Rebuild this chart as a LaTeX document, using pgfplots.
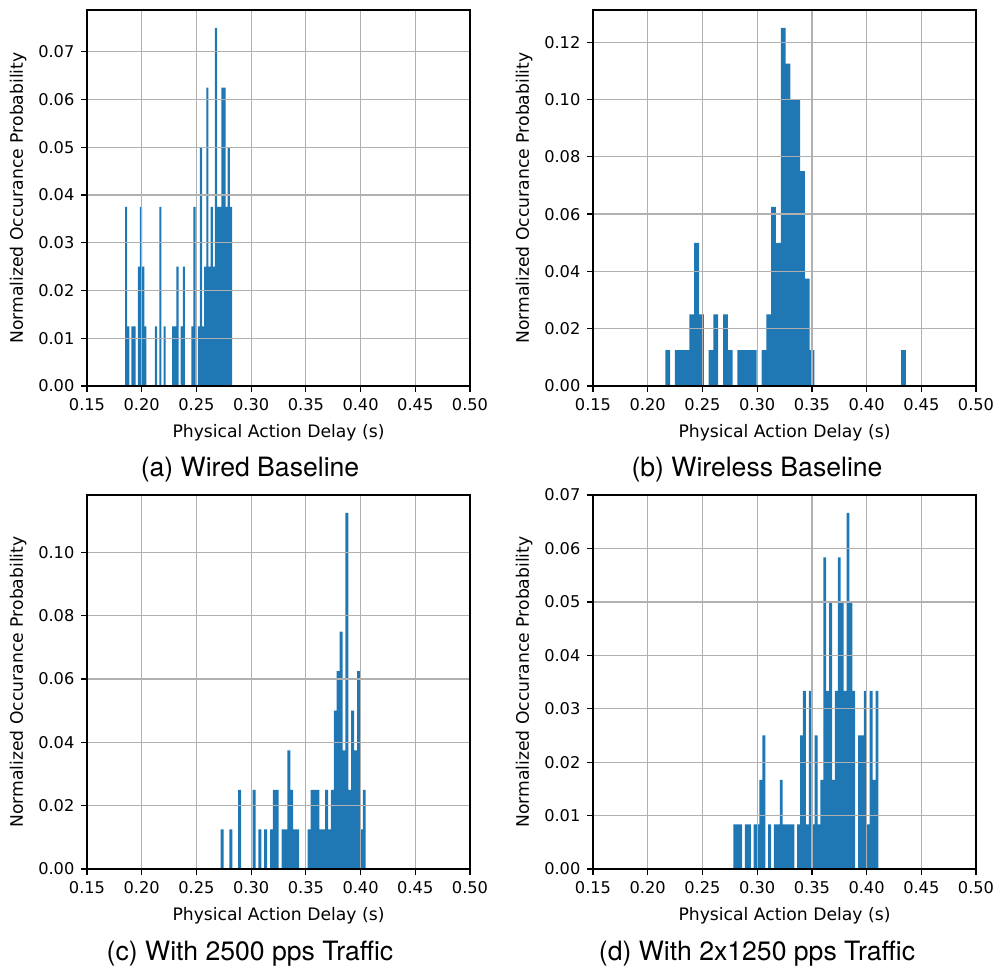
\documentclass[border=0pt]{standalone}
\usepackage{pgfplots}
\pgfplotsset{compat=1.18}
\usepackage{fontspec}
\setmainfont{DejaVu Sans}
\newfontfamily\capfont{TeX Gyre Heros}
\definecolor{mplblue}{HTML}{1F77B4}
\definecolor{mplgrid}{HTML}{B0B0B0}
\pgfplotsset{
  hist/.style={
    scale only axis, width=191.5pt,
    xmin=0.15, xmax=0.50, ymin=0,
    xtick={0.15,0.20,0.25,0.30,0.35,0.40,0.45,0.50},
    xticklabel={\pgfmathprintnumber[fixed,fixed zerofill,precision=2,assume math mode=true]{\tick}},
    yticklabel={\pgfmathprintnumber[fixed,fixed zerofill,precision=2,assume math mode=true]{\tick}},
    scaled ticks=false,
    tick align=outside, tick pos=left,
    major tick length=2.8pt,
    every tick/.style={black, line width=0.64pt},
    grid=major, major grid style={mplgrid, line width=0.64pt},
    axis line style={line width=0.64pt},
    axis on top,
    tick label style={font=\fontsize{8.1}{9.7}\selectfont},
    label style={font=\fontsize{8.6}{10.3}\selectfont},
    xlabel={Physical Action Delay (s)},
    ylabel={Normalized Occurance Probability},
    xlabel style={yshift=0pt},
    ylabel style={yshift=-1pt},
  },
  bars/.style={ybar interval, fill=mplblue, draw=none},
}
\begin{document}
\begin{tikzpicture}
\path[use as bounding box] (0,0) rectangle (500pt,-484pt);
% (a)
\begin{axis}[hist, height=188pt, at={(43.5pt,-5pt)}, anchor=north west,
  ymax=0.07875, ytick={0,0.01,0.02,0.03,0.04,0.05,0.06,0.07}]
\addplot[bars] coordinates {
(0.18473,0.0375) (0.18669,0.0125) (0.18864,0) (0.19060,0.0125) (0.19255,0.0125) (0.19451,0) (0.19647,0.025) (0.19842,0.0375) (0.20038,0.025) (0.20233,0.0125) (0.20429,0) (0.20625,0) (0.20820,0) (0.21016,0) (0.21211,0.0125) (0.21407,0) (0.21603,0.0375) (0.21798,0) (0.21994,0.0125) (0.22189,0) (0.22385,0) (0.22581,0) (0.22776,0.0125) (0.22972,0.0125) (0.23167,0.025) (0.23363,0) (0.23559,0.0125) (0.23754,0.025) (0.23950,0) (0.24145,0) (0.24341,0) (0.24537,0.0125) (0.24732,0.0375) (0.24928,0) (0.25123,0.0125) (0.25319,0.05) (0.25515,0.0125) (0.25710,0.025) (0.25906,0.0625) (0.26101,0.025) (0.26297,0.0375) (0.26493,0.025) (0.26688,0.075) (0.26884,0.0375) (0.27079,0.0375) (0.27275,0.0625) (0.27471,0.0625) (0.27666,0.0375) (0.27862,0.05) (0.28057,0.0375) (0.28253,0)
};
\end{axis}
% (b)
\begin{axis}[hist, height=188pt, at={(296.5pt,-5pt)}, anchor=north west,
  ymax=0.13125, ytick={0,0.02,0.04,0.06,0.08,0.10,0.12}]
\addplot[bars] coordinates {
(0.21609,0.0125) (0.22049,0) (0.22488,0.0125) (0.22928,0.0125) (0.23368,0.0125) (0.23807,0.025) (0.24247,0.05) (0.24687,0.025) (0.25126,0) (0.25566,0.0125) (0.26006,0.025) (0.26445,0) (0.26885,0.025) (0.27325,0.0125) (0.27764,0) (0.28204,0.0125) (0.28644,0.0125) (0.29083,0.0125) (0.29523,0.0125) (0.29963,0) (0.30402,0.0125) (0.30842,0.025) (0.31282,0.0625) (0.31721,0.05) (0.32161,0.125) (0.32601,0.1125) (0.33040,0.1) (0.33480,0.1) (0.33920,0.075) (0.34359,0.0375) (0.34799,0.0125) (0.35239,0) (0.43153,0.0125) (0.43593,0)
};
\end{axis}
% (c)
\begin{axis}[hist, height=187pt, at={(43.5pt,-247.5pt)}, anchor=north west,
  ymax=0.118125, ytick={0,0.02,0.04,0.06,0.08,0.10}]
\addplot[bars] coordinates {
(0.27218,0.0125) (0.27483,0) (0.27748,0) (0.28013,0.0125) (0.28278,0) (0.28544,0) (0.28809,0.025) (0.29074,0) (0.29339,0) (0.29604,0) (0.29869,0) (0.30134,0.025) (0.30399,0) (0.30664,0.0125) (0.30929,0) (0.31195,0.0125) (0.31460,0) (0.31725,0.0125) (0.31990,0.025) (0.32255,0.025) (0.32520,0) (0.32785,0.0125) (0.33050,0.0125) (0.33315,0.0375) (0.33580,0.025) (0.33846,0.0125) (0.34111,0.0125) (0.34376,0) (0.34641,0) (0.34906,0) (0.35171,0.0125) (0.35436,0.025) (0.35701,0.025) (0.35966,0.025) (0.36231,0.0125) (0.36497,0.0125) (0.36762,0.025) (0.37027,0.0125) (0.37292,0.025) (0.37557,0.05) (0.37822,0.0625) (0.38087,0.075) (0.38352,0.0375) (0.38617,0.1125) (0.38882,0.025) (0.39148,0.05) (0.39413,0.0375) (0.39678,0.0625) (0.39943,0.0125) (0.40208,0.025) (0.40473,0)
};
\end{axis}
% (d)
\begin{axis}[hist, height=187pt, at={(296.5pt,-247.5pt)}, anchor=north west,
  ymax=0.07, ytick={0,0.01,0.02,0.03,0.04,0.05,0.06,0.07}]
\addplot[bars] coordinates {
(0.27827,0.008333) (0.28092,0.008333) (0.28357,0.008333) (0.28622,0) (0.28887,0.008333) (0.29153,0.008333) (0.29418,0) (0.29683,0.008333) (0.29948,0.008333) (0.30213,0.016667) (0.30478,0.025) (0.30743,0) (0.31008,0.008333) (0.31273,0) (0.31538,0.008333) (0.31804,0.008333) (0.32069,0.016667) (0.32334,0.008333) (0.32599,0.008333) (0.32864,0.008333) (0.33129,0.008333) (0.33394,0) (0.33659,0.008333) (0.33924,0.025) (0.34189,0.033333) (0.34455,0.008333) (0.34720,0.033333) (0.34985,0.008333) (0.35250,0.025) (0.35515,0.008333) (0.35780,0.016667) (0.36045,0.058333) (0.36310,0.033333) (0.36575,0.05) (0.36840,0.016667) (0.37106,0.033333) (0.37371,0.058333) (0.37636,0.05) (0.37901,0.033333) (0.38166,0.066667) (0.38431,0.05) (0.38696,0.033333) (0.38961,0) (0.39226,0.025) (0.39491,0.025) (0.39757,0.033333) (0.40022,0.008333) (0.40287,0.033333) (0.40552,0.016667) (0.40817,0.033333) (0.41082,0)
};
\end{axis}
\node[font=\capfont\fontsize{13.3}{16}\selectfont] at (125pt,-235pt) {(a) Wired Baseline};
\node[font=\capfont\fontsize{13.3}{16}\selectfont] at (378.5pt,-235pt) {(b) Wireless Baseline};
\node[font=\capfont\fontsize{13.3}{16}\selectfont] at (125pt,-477pt) {(c) With 2500 pps Traffic};
\node[font=\capfont\fontsize{13.3}{16}\selectfont] at (378.5pt,-477pt) {(d) With 2x1250 pps Traffic};
\end{tikzpicture}
\end{document}
